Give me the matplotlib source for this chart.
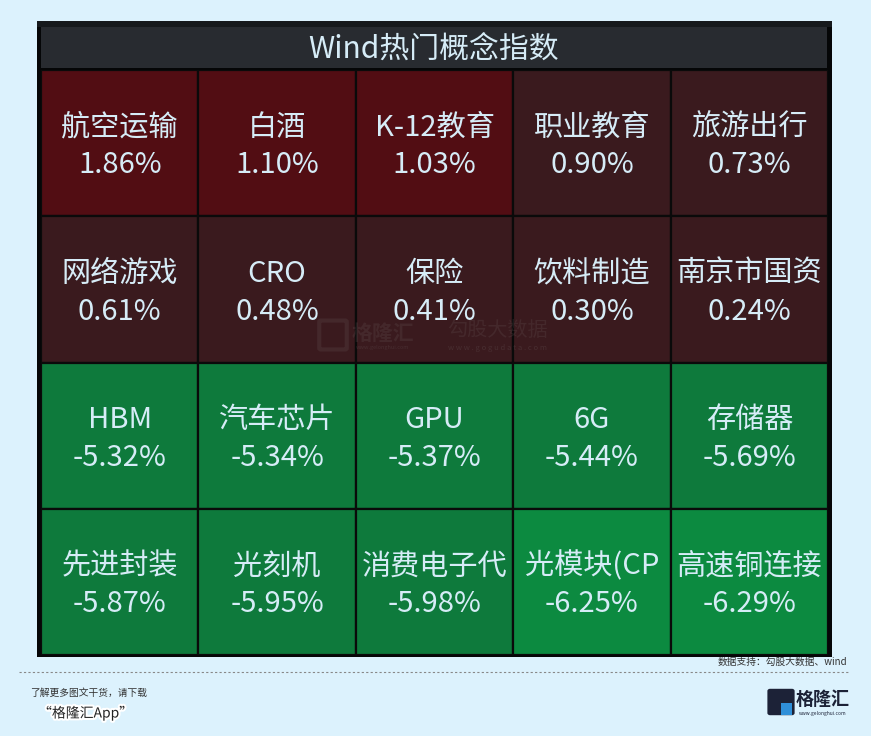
import matplotlib
matplotlib.use("Agg")
import matplotlib.pyplot as plt
from matplotlib.patches import Rectangle, FancyBboxPatch
import matplotlib.patheffects as pe

plt.rcParams['font.family'] = ['Noto Sans CJK SC', 'DejaVu Sans']

title = "Wind热门概念指数"
names = ["航空运输", "白酒", "K-12教育", "职业教育", "旅游出行",
         "网络游戏", "CRO", "保险", "饮料制造", "南京市国资",
         "HBM", "汽车芯片", "GPU", "6G", "存储器",
         "先进封装", "光刻机", "消费电子代", "光模块(CP", "高速铜连接"]
changes = [1.86, 1.10, 1.03, 0.90, 0.73,
           0.61, 0.48, 0.41, 0.30, 0.24,
           -5.32, -5.34, -5.37, -5.44, -5.69,
           -5.87, -5.95, -5.98, -6.25, -6.29]
ncols = 5
source_text = "数据支持：勾股大数据、wind"

W, H = 871, 736
fig = plt.figure(figsize=(W / 100, H / 100), dpi=100)
fig.patch.set_facecolor('#dcf2fd')

def fx(x):
    return x / W

def fy(y):
    return 1 - y / H

# panel outer (black) and top strip
fig.patches.append(Rectangle((fx(37), fy(657)), fx(832 - 37), (657 - 21) / H,
                             transform=fig.transFigure, facecolor='#050607',
                             edgecolor='none', zorder=-2))
fig.patches.append(Rectangle((fx(37), fy(27)), fx(832 - 37), 6 / H,
                             transform=fig.transFigure, facecolor='#16191c',
                             edgecolor='none', zorder=-1))
# title bar
fig.patches.append(Rectangle((fx(41), fy(68)), fx(827 - 41), 41 / H,
                             transform=fig.transFigure, facecolor='#282b30',
                             edgecolor='none', zorder=-1))
fig.text(fx(434), fy(50), title, ha='center', va='center', fontsize=21.5,
         color='#d6ecf7')

# grid axes
ax = fig.add_axes([fx(41), fy(655), fx(828 - 41), (655 - 70) / H])
ax.set_zorder(2)
ax.patch.set_visible(False)
nrows = (len(names) + ncols - 1) // ncols
ax.set_xlim(0, ncols)
ax.set_ylim(nrows, 0)
ax.axis('off')


def cell_color(v):
    if v >= 1.0:
        return '#520d13'
    if v >= 0:
        return '#3a1a1e'
    if v <= -6.0:
        return '#0c8a40'
    return '#0e7a3c'


for i, (n, v) in enumerate(zip(names, changes)):
    r, c = divmod(i, ncols)
    ax.add_patch(Rectangle((c, r), 1, 1, facecolor=cell_color(v),
                           edgecolor='#0a0a0a', linewidth=1.6))
    ax.text(c + 0.5, r + 0.5 - 0.105, n, ha='center', va='center',
            fontsize=21, color='#d6ecf7')
    ax.text(c + 0.5, r + 0.5 + 0.152, f"{v:.2f}%", ha='center', va='center',
            fontsize=21, color='#d6ecf7')

# watermark (faint, above cells)
wm = dict(color='#6a5a5c', alpha=0.22, zorder=10)
fig.text(fx(383), fy(333), "格隆汇", ha='center', va='center', fontsize=15,
         fontweight='bold', **wm)
fig.text(fx(497), fy(331), "勾股大数据", ha='center', va='center', fontsize=14.5,
         **wm)
fig.text(fx(497), fy(348), "w w w . g o g u d a t a . c o m", ha='center',
         va='center', fontsize=5.5, color='#6a5a5c', alpha=0.3, zorder=10)
fig.text(fx(383), fy(348), "www.gelonghui.com", ha='center', va='center',
         fontsize=4, color='#6a5a5c', alpha=0.3, zorder=10)
fig.add_artist(FancyBboxPatch((fx(321), fy(348)), fx(24), 26 / H,
                              boxstyle='round,pad=0.002',
                              transform=fig.transFigure, facecolor='none',
                              edgecolor='#6a5a5c', linewidth=3, alpha=0.22,
                              zorder=10))

# footer
fig.text(fx(847), fy(662), source_text, ha='right', va='center', fontsize=7,
         color='#333333')
fig.add_artist(plt.Line2D([fx(19), fx(849)], [fy(672), fy(672)],
                          transform=fig.transFigure, color='#888888',
                          linewidth=0.8, linestyle=(0, (2, 2))))
fig.text(fx(30), fy(693), "了解更多图文干货，请下载", ha='left', va='center',
         fontsize=7, color='#333333', style='italic')
fig.text(fx(38), fy(713), "“格隆汇App”", ha='left', va='center', fontsize=10,
         color='#222222', style='italic',
         path_effects=[pe.withStroke(linewidth=3, foreground='white')])

# logo
fig.add_artist(FancyBboxPatch((fx(770), fy(713)), fx(22), 22 / H,
                              boxstyle='round,pad=0.003',
                              transform=fig.transFigure, facecolor='#1c2237',
                              edgecolor='none', zorder=5))
fig.add_artist(Rectangle((fx(781), fy(715)), fx(11), 12 / H,
                         transform=fig.transFigure, facecolor='#2f8fd8',
                         edgecolor='none', zorder=6))
fig.text(fx(823), fy(699), "格隆汇", ha='center', va='center', fontsize=13,
         color='#1c2237', fontweight='bold')
fig.text(fx(823), fy(713), "www.gelonghui.com", ha='center', va='center',
         fontsize=3.5, color='#1c2237')

fig.savefig('out.png', dpi=100, facecolor=fig.get_facecolor())
